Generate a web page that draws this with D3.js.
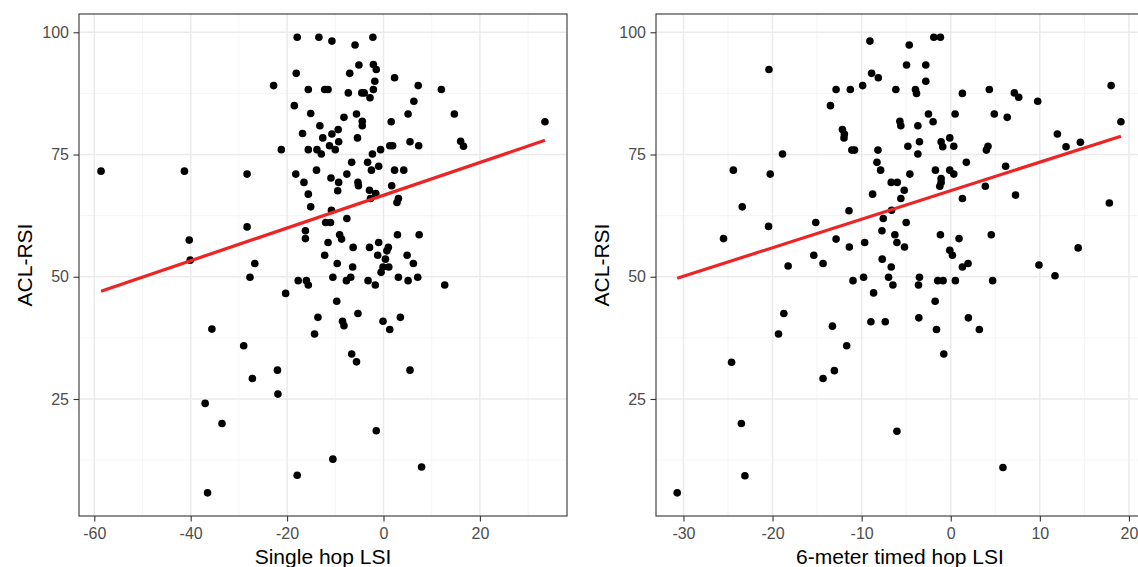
<!DOCTYPE html>
<html>
<head>
<meta charset="utf-8">
<script src="https://cdn.jsdelivr.net/npm/d3@7"></script>
<style>
  body { margin: 0; background: #fff; }
  text { font-family: "Liberation Sans", Arial, sans-serif; }
</style>
</head>
<body>
<svg id="chart"></svg>
<script>
// ACL-RSI vs single hop LSI (left panel)
const singleX = [-17.9,-13.4,-10.7,-5.9,-2.2,-5.1,-2.1,-1.5,-7.0,-18.1,2.3,-1.8,-22.8,-15.6,-12.2,-11.5,-7.3,-4.5,-4.0,-2.8,-2.1,7.2,12.0,6.3,-18.5,-15.1,-8.2,-5.6,-4.4,-4.4,-13.2,-9.4,-10.7,-12.6,-16.8,-9.3,-11.2,-5.4,1.6,5.1,14.7,16.0,16.6,-21.2,-15.6,-13.8,-12.9,-10.0,-2.3,-0.6,1.3,1.9,5.5,7.3,-28.3,-18.2,-13.9,-16.5,-10.9,-9.3,-7.6,-6.6,-3.3,-1.0,-2.5,2.3,4.2,-5.3,-5.2,-9.5,-15.6,-2.9,-1.6,-2.7,1.7,3.1,2.8,-15.1,-10.8,-28.3,-12.0,-11.0,-7.6,-16.2,-16.2,-11.5,-9.1,-8.7,-6.3,-2.9,-1.0,1.0,0.7,2.9,7.4,-12.2,-1.2,0.4,4.9,-26.7,-9.6,-6.4,-0.1,1.1,6.2,
  -27.7,-17.7,-16.0,-15.6,-10.5,-7.7,-6.8,-3.2,-1.7,-0.5,3.1,5.1,7.1,12.7,-20.3,-9.7,-13.6,-8.5,-8.2,-5.3,-0.1,1.3,3.5,-14.3,-29.0,-6.6,-5.6,5.5,-22.0,-27.2,-21.9,-1.5,-10.5,7.9,-17.9,
  -58.6,-41.3,-40.3,-40.1,-35.6,-37.0,-33.5,-36.5,33.5];
const singleY = [99.0,99.0,98.2,97.4,99.0,93.3,93.4,92.4,91.6,91.6,90.7,90.0,89.1,88.3,88.3,88.3,87.6,87.6,87.6,86.6,88.3,89.1,88.3,85.9,85.0,83.4,82.6,83.3,81.8,80.9,80.9,80.1,79.2,78.4,79.3,77.6,76.8,78.4,81.7,83.3,83.3,77.7,76.7,76.0,76.0,76.0,75.1,76.0,75.1,76.0,76.8,76.8,77.6,76.8,71.0,71.0,71.8,69.3,70.2,69.3,71.0,73.4,73.4,72.6,71.8,71.8,71.8,69.3,68.6,67.6,66.9,67.7,67.0,66.0,68.6,66.0,65.2,64.3,63.6,60.2,61.1,61.1,61.9,59.4,57.8,57.0,58.6,57.7,56.0,56.0,57.0,56.0,55.3,58.6,58.6,54.4,54.4,53.6,54.4,52.7,52.7,52.0,52.0,52.0,52.7,
  49.9,49.2,49.2,48.3,49.9,49.2,49.9,49.2,48.3,50.9,49.9,49.2,49.9,48.3,46.6,45.0,41.7,40.9,40.0,42.5,40.9,39.2,41.7,38.3,35.9,34.2,32.6,30.9,30.9,29.2,26.0,18.5,12.7,11.1,9.4,
  71.6,71.6,57.5,53.4,39.3,24.1,20.0,5.8,81.7];

// ACL-RSI vs 6-meter timed hop LSI (right panel)
const timedX = [-9.07,-4.66,-1.90,-1.16,-20.4,-4.96,-2.80,-8.88,-8.13,-2.80,-9.89,-12.87,-11.27,-6.16,-3.96,-3.84,1.31,4.33,-13.5,-2.50,-1.98,0.49,4.89,6.34,-5.71,-5.60,-3.69,-12.16,-11.94,-11.98,-11.1,-10.8,-8.17,-4.81,-3.51,-3.69,-1.08,-0.90,-0.11,0.34,4.0,4.18,-18.88,-24.4,-20.26,-8.28,-7.87,-4.59,-1.72,-0.11,0.34,1.75,6.16,-1.08,-1.08,-1.23,-6.68,-6.0,-5.22,-5.60,-8.77,3.88,1.31,-23.4,-11.42,-6.64,-7.57,-5.0,-15.15,-20.45,-7.72,-6.27,-6.04,-5.19,-1.16,0.93,4.55,-12.87,-11.38,-9.66,-25.5,-15.37,-14.33,-18.25,-7.69,-6.68,-0.11,0.19,1.31,1.94,
  -10.97,-9.78,-6.98,-6.49,-8.66,-3.51,-3.62,-1.46,-0.86,0.52,4.70,-1.75,-18.73,-8.96,-7.35,-3.58,1.98,-13.28,-19.33,-1.60,3.21,-11.68,-0.78,-24.6,-14.33,-13.06,-23.5,-6.04,-23.1,5.86,
  -30.7,7.14,7.63,9.76,18.0,19.1,11.97,12.94,14.55,7.27,17.8,14.3,11.7,9.9];
const timedY = [98.2,97.4,99.0,99.0,92.4,93.3,93.3,91.6,90.7,90.0,89.1,88.3,88.3,88.3,88.3,87.5,87.5,88.3,85.0,83.3,81.7,83.3,83.3,82.6,81.8,80.9,80.9,80.1,79.2,78.4,75.9,75.9,75.9,76.7,77.6,75.1,77.6,76.6,78.4,76.7,75.9,76.7,75.1,71.8,71.0,73.4,71.8,71.0,71.8,71.8,71.0,73.4,72.6,70.1,69.3,68.5,69.3,69.3,67.7,66.0,66.9,68.5,66.0,64.3,63.5,63.6,61.9,61.1,61.1,60.3,59.4,58.6,57.0,56.1,58.6,57.8,58.6,57.7,56.1,57.0,57.8,54.4,52.7,52.2,53.6,52.0,55.4,54.4,52.0,52.7,
  49.2,49.9,49.9,48.3,46.7,49.9,48.3,49.2,49.2,49.2,49.2,45.0,42.5,40.8,40.8,41.6,41.6,39.9,38.3,39.2,39.2,35.9,34.2,32.5,29.2,30.8,20.0,18.4,9.3,11.0,
  5.8,87.6,86.7,85.9,89.1,81.7,79.2,76.6,77.5,66.7,65.1,55.9,50.2,52.4];

// fitted lines (lm), ends
const singleFitX = [-58.6, 33.5];
const singleFitY = [47.05, 77.9];
const timedFitX = [-30.7, 19.1];
const timedFitY = [49.7, 78.75];

const yTicks = [25, 50, 75, 100];
const yMinor = [12.5, 37.5, 62.5, 87.5];
const singleTicks = [-60, -40, -20, 0, 20];
const singleMinor = [-50, -30, -10, 10, 30];
const timedTicks = [-30, -20, -10, 0, 10, 20];
const timedMinor = [-25, -15, -5, 5, 15];

const W = 1138, H = 567;
const panelTop = 14, panelBottom = 516;

const svg = d3.select("#chart")
    .attr("width", W)
    .attr("height", H);

const y = d3.scaleLinear().domain([1.07, 103.74]).range([panelBottom, panelTop]);

// plain hyphen like R does, not the unicode minus
const fmt = d => String(d);

function drawPanel(p) {
  const x = d3.scaleLinear().domain(p.domain).range(p.range);
  const [x0, x1] = p.range;
  const g = svg.append("g");

  const clipId = "clip" + p.id;
  g.append("clipPath").attr("id", clipId)
    .append("rect")
      .attr("x", x0).attr("y", panelTop)
      .attr("width", x1 - x0).attr("height", panelBottom - panelTop);

  const plot = g.append("g").attr("clip-path", `url(#${clipId})`);

  // grid
  plot.selectAll(".vminor").data(p.minor).enter().append("line")
      .attr("x1", d => x(d)).attr("x2", d => x(d))
      .attr("y1", panelTop).attr("y2", panelBottom)
      .attr("stroke", "#f2f2f2").attr("stroke-width", 0.8);
  plot.selectAll(".hminor").data(yMinor).enter().append("line")
      .attr("x1", x0).attr("x2", x1)
      .attr("y1", d => y(d)).attr("y2", d => y(d))
      .attr("stroke", "#f2f2f2").attr("stroke-width", 0.8);
  plot.selectAll(".vmajor").data(p.ticks).enter().append("line")
      .attr("x1", d => x(d)).attr("x2", d => x(d))
      .attr("y1", panelTop).attr("y2", panelBottom)
      .attr("stroke", "#ebebeb").attr("stroke-width", 1.5);
  plot.selectAll(".hmajor").data(yTicks).enter().append("line")
      .attr("x1", x0).attr("x2", x1)
      .attr("y1", d => y(d)).attr("y2", d => y(d))
      .attr("stroke", "#ebebeb").attr("stroke-width", 1.5);

  // points
  plot.selectAll(".pt").data(p.xs).enter().append("circle")
      .attr("cx", d => x(d))
      .attr("cy", (d, i) => y(p.ys[i]))
      .attr("r", 3.8)
      .attr("fill", "#000");

  // lm line
  plot.append("line")
      .attr("x1", x(p.fitX[0])).attr("y1", y(p.fitY[0]))
      .attr("x2", x(p.fitX[1])).attr("y2", y(p.fitY[1]))
      .attr("stroke", "#ee2424").attr("stroke-width", 3.2);

  // border
  g.append("rect")
      .attr("x", x0).attr("y", panelTop)
      .attr("width", x1 - x0).attr("height", panelBottom - panelTop)
      .attr("fill", "none").attr("stroke", "#333").attr("stroke-width", 1.1);

  // axes
  const xAxis = g.append("g")
      .attr("transform", `translate(0,${panelBottom})`)
      .call(d3.axisBottom(x).tickValues(p.ticks).tickFormat(fmt).tickSize(5.5).tickPadding(6.5));
  const yAxis = g.append("g")
      .attr("transform", `translate(${x0},0)`)
      .call(d3.axisLeft(y).tickValues(yTicks).tickFormat(fmt).tickSize(5.5).tickPadding(4.5));

  [xAxis, yAxis].forEach(a => {
    a.select(".domain").remove();
    a.selectAll(".tick line").attr("stroke", "#333").attr("stroke-width", 1.1);
    a.selectAll(".tick text")
      .attr("fill", "#4d4d4d")
      .style("font-size", "16px")
      .style("font-family", '"Liberation Sans", Arial, sans-serif');
  });

  // titles
  g.append("text")
      .attr("x", (x0 + x1) / 2).attr("y", 564)
      .attr("text-anchor", "middle")
      .style("font-size", "21px")
      .text(p.xTitle);
  g.append("text")
      .attr("transform", `translate(${x0 - 47},${(panelTop + panelBottom) / 2}) rotate(-90)`)
      .attr("text-anchor", "middle")
      .style("font-size", "21px")
      .text("ACL-RSI");
}

drawPanel({
  id: 1, domain: [-63.17, 38.07], range: [79, 567],
  ticks: singleTicks, minor: singleMinor,
  xs: singleX, ys: singleY, fitX: singleFitX, fitY: singleFitY,
  xTitle: "Single hop LSI"
});
drawPanel({
  id: 2, domain: [-33.08, 21.69], range: [656, 1144],
  ticks: timedTicks, minor: timedMinor,
  xs: timedX, ys: timedY, fitX: timedFitX, fitY: timedFitY,
  xTitle: "6-meter timed hop LSI"
});
</script>
</body>
</html>
